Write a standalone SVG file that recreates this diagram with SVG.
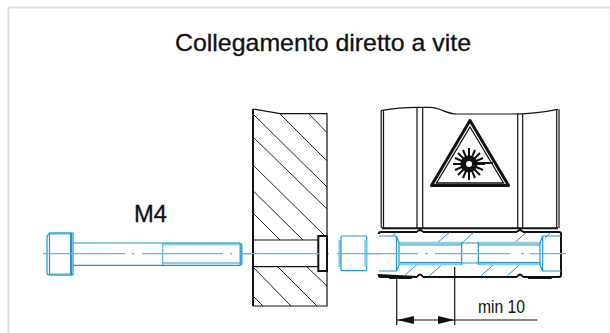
<svg xmlns="http://www.w3.org/2000/svg" width="610" height="333" viewBox="0 0 610 333">
<style>
.k{fill:none;stroke:#111;stroke-width:1.200}
.h{fill:none;stroke:#222;stroke-width:1}
.K{fill:none;stroke:#111;stroke-width:2}
.b{fill:none;stroke:#1f97cf;stroke-width:1.200}
.B{fill:none;stroke:#1f97cf;stroke-width:2}
.l{fill:none;stroke:#8accea;stroke-width:2.400}
.c{fill:none;stroke:#5db8e0;stroke-width:1.200}
.hb{fill:none;stroke:#1f97cf;stroke-width:1}
text{font-family:"Liberation Sans",Arial,sans-serif;fill:#111}
.t{stroke:#111;stroke-width:.3}
</style>
<defs><marker id="a" markerWidth="17" markerHeight="8" refX="17" refY="4" orient="auto-start-reverse" markerUnits="userSpaceOnUse"><path d="M0 0L17 4L0 8Z" fill="#111"/></marker></defs>
<rect x="0" y="0" width="610" height="333" fill="#fff"/>
<path d="M8.500 333V7.500H610" fill="none" stroke="#dedede" stroke-width="2"/>
<path d="M608.700 8V333" fill="none" stroke="#f3f3f3" stroke-width="1"/>
<text class="t" x="175" y="51" font-size="24" textLength="296" lengthAdjust="spacingAndGlyphs">Collegamento diretto a vite</text>
<text class="t" x="134" y="222" font-size="24" textLength="33" lengthAdjust="spacingAndGlyphs">M4</text>
<g id="screw">
<path class="l" d="M50 233.500H72M50 274.500H72M163 244H240"/>
<path class="b" d="M49 234.500Q47 234.500 47 237V272Q47 275 49 275H73V233H49ZM49.500 233V275"/>
<path class="B" d="M71 233V275"/>
<path class="b" d="M73 243H239Q241.500 243 241.500 245V263Q241.500 265.300 239 265.300H73"/>
<path class="c" d="M162.700 243V265"/>
<path class="b" d="M163 263H240"/>
<path d="M239.500 244H242.500V264Q242.500 265.500 239.500 265.500Z" fill="#3aa5d6"/>
<path class="c" d="M43 253.700H125M132 253.700H134M142 253.700H223M230 253.700H232M240 253.700H253"/>
</g>
<g id="plate">
<path class="K" d="M253 109V306"/>
<path class="k" d="M253 109L280 113.700H327V236M327 271V306H253"/>
<path class="h" d="M253 114L327 187M253 137L327 209M253 165L325 236M253 190.700L303 240M253 213L280 240M280 114L327 161M309 114L327 132.700M253 267L291 306M278 267L317 306M307 267L327 286M253 296L263 306"/>
<path class="k" d="M253 240H318M253 266.700H318"/>
<path class="K" d="M318.300 236H327V271H318.300Z" stroke-width="1.500"/>
<path class="c" d="M243 253.700H320M328 253.700H329"/>
</g>
<g id="head">
<path class="l" d="M339.500 240V267"/>
<rect class="b" x="341" y="236" width="25.700" height="34.700" rx="1"/>
<path class="l" d="M365.500 240V267" stroke-width="1.500"/>
<path class="c" d="M337 253.700H379"/>
</g>
<g id="sensor">
<path class="k" d="M381 110.600Q400 107.300 417 107.300H430C442 108 446 114 457 114H510Q535 114 558 109.300"/>
<path class="k" d="M381.200 110.600V228M383.500 110V228M556.700 110V228M559 109.300V228M417 107.300V228M422.700 107.300V228M517.700 114V228M522.700 114V228"/>
<path class="K" d="M382 228.300H558" stroke-width="3"/>
<path d="M470 120.500L508.500 185.500H431.500Z" fill="none" stroke="#111" stroke-width="3" stroke-linejoin="round"/>
<path d="M470 127L503.500 183H436.500Z" fill="none" stroke="#111" stroke-width="1.300"/>
<path class="K" d="M469 148V180M453 164H485M458 153L480 175M458 175L480 153M463 150L475 178M463 178L475 150M455 158L483 170M455 170L483 158"/>
<circle cx="469" cy="164" r="8.500" fill="#111"/>
<circle cx="469" cy="164" r="3" fill="#fff"/>
<path class="K" d="M476 163H493" stroke-width="1.500"/>
<path class="K" d="M378.700 234Q378.700 232 381 232H417M423 232H517M523 232H559Q561 232 561 234V275Q561 277 559 277H523M517 277H423M417 277H381Q378.700 277 378.700 275Z"/>
<path class="K" d="M417 232Q420 228 423 232M517 232Q520 228 523 232M417 277Q420 272 423 277M517 277Q520 272 523 277" stroke-width="1.500"/>
<path class="K" d="M389 278H411.700M528 278H551.700"/>
<path class="hb" d="M396 232.700L392.700 236M449.300 232.700L436.700 243.300M473.300 232.700L461.700 243.300M526 232.700L514 243.300M550.700 232.700L545 238M416.700 265L404.300 275.700M441.700 265L429.300 275.700M493.300 265L481 275.700M519.300 265L507.300 275.700"/>
<path class="l" d="M399 243H461M479 243H541M399 264H461M479 264H541"/>
<path class="b" d="M379 236H396.500V271H379M396.500 236L399 243V265L396.500 271M561 236H542.700V271H561M542.700 236L540 243V265L542.700 271"/>
<path class="b" d="M400 245H461.700M400 262.500H461.700M461.700 242V265M478.300 242V265M478.300 245H540M478.300 262.500H540M461.700 243H478.300M461.700 263H478.300"/>
<path class="c" d="M366 253.700H418M425 253.700H428M435 253.700H510M521 253.700H524M530 253.700H566"/>
</g>
<g id="connectors">
<path class="k" d="M396.700 277V325M454.700 267V325" stroke-width="1"/>
<path class="k" stroke-width="1" d="M397 320H454.500" marker-start="url(#a)" marker-end="url(#a)"/>
<path class="k" stroke-width="1" d="M454 320H537.300"/>
</g>
<text id="min10" x="478" y="313" font-size="19" textLength="47" lengthAdjust="spacingAndGlyphs">min 10</text>
</svg>
